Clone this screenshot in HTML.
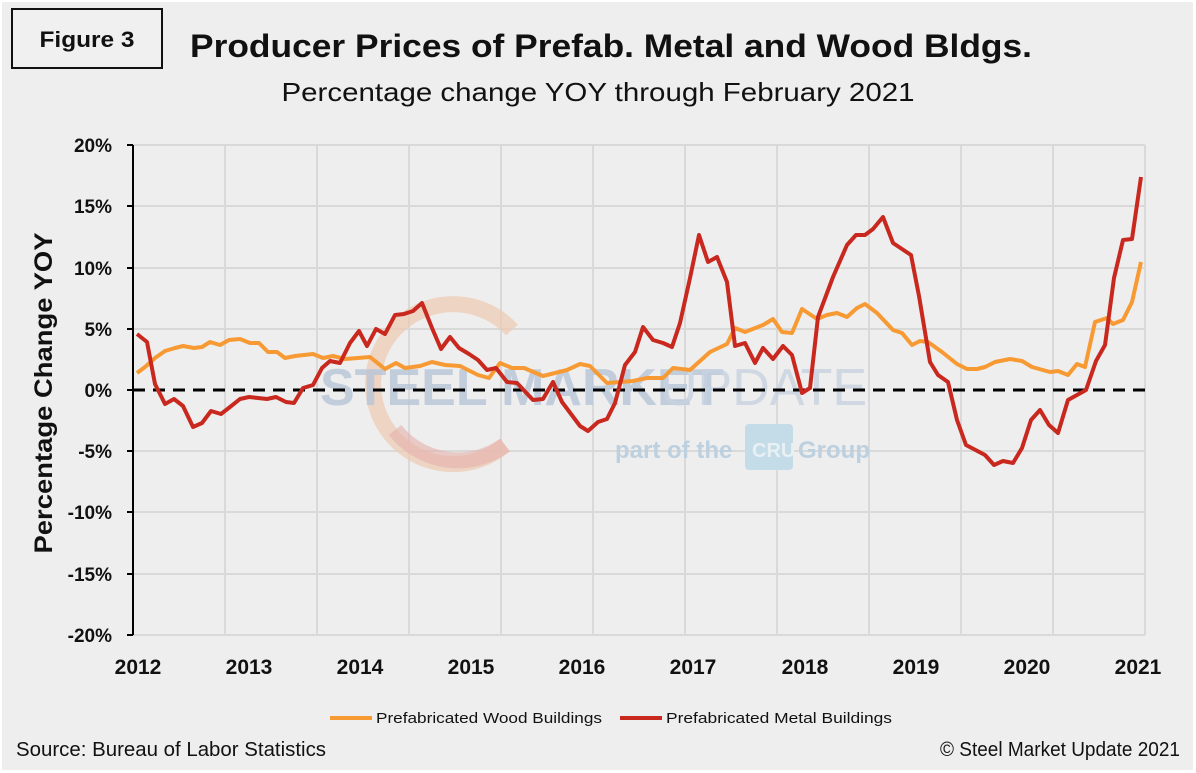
<!DOCTYPE html>
<html><head><meta charset="utf-8"><style>
body{margin:0;background:#fff;}
svg{display:block;font-family:"Liberation Sans",sans-serif;}
</style></head><body>
<svg width="1196" height="773" viewBox="0 0 1196 773" xmlns="http://www.w3.org/2000/svg">
<rect x="2" y="2" width="1191" height="768" fill="#eeeeee"/>
<rect x="12" y="9" width="150" height="59" fill="#f0f0f0" stroke="#111" stroke-width="2"/>
<text x="87" y="47" text-anchor="middle" font-size="22" font-weight="bold" fill="#111" textLength="95" lengthAdjust="spacingAndGlyphs">Figure 3</text>
<text x="611" y="57" text-anchor="middle" font-size="32" font-weight="bold" fill="#111" textLength="842" lengthAdjust="spacingAndGlyphs">Producer Prices of Prefab. Metal and Wood Bldgs.</text>
<text x="598" y="101" text-anchor="middle" font-size="26" fill="#111" textLength="633" lengthAdjust="spacingAndGlyphs">Percentage change YOY through February 2021</text>
<!-- grid -->
<g stroke="#d9d9d9" stroke-width="2">
<line x1="133" y1="145" x2="1145" y2="145"/><line x1="133" y1="206" x2="1145" y2="206"/>
<line x1="133" y1="268" x2="1145" y2="268"/><line x1="133" y1="329" x2="1145" y2="329"/>
<line x1="133" y1="451" x2="1145" y2="451"/><line x1="133" y1="512" x2="1145" y2="512"/>
<line x1="133" y1="574" x2="1145" y2="574"/><line x1="133" y1="635" x2="1145" y2="635"/>
<line x1="225" y1="145" x2="225" y2="635"/><line x1="317" y1="145" x2="317" y2="635"/>
<line x1="409" y1="145" x2="409" y2="635"/><line x1="501" y1="145" x2="501" y2="635"/>
<line x1="593" y1="145" x2="593" y2="635"/><line x1="685" y1="145" x2="685" y2="635"/>
<line x1="777" y1="145" x2="777" y2="635"/><line x1="869" y1="145" x2="869" y2="635"/>
<line x1="961" y1="145" x2="961" y2="635"/><line x1="1053" y1="145" x2="1053" y2="635"/>
<line x1="1145" y1="145" x2="1145" y2="635"/>
</g>
<!-- watermark -->
<path d="M512,330 A80,80 0 1,0 505,445" fill="none" stroke="#eec9b0" stroke-width="16" opacity="0.7"/>
<path d="M395,430 A80,80 0 0,0 505,445" fill="none" stroke="#e6b0ac" stroke-width="16" opacity="0.6"/>
<text x="320" y="405" font-size="52" font-weight="bold" fill="#b8c6d8" opacity="0.8">STEEL MARKET</text>
<text x="660" y="405" font-size="52" fill="#c8d2e0" opacity="0.8">UPDATE</text>
<text x="615" y="458" font-size="24" font-weight="bold" fill="#bcd0e0">part of the</text>
<rect x="745" y="424" width="48" height="46" rx="4" fill="#c4dce8"/>
<text x="752" y="457" font-size="20" font-weight="bold" fill="#e8f0f4">CRU</text>
<text x="798" y="458" font-size="24" font-weight="bold" fill="#bcd0e0">Group</text>
<!-- axis -->
<g stroke="#000" stroke-width="2">
<line x1="133" y1="145" x2="133" y2="635"/>
<line x1="127" y1="145" x2="133" y2="145"/><line x1="127" y1="206" x2="133" y2="206"/>
<line x1="127" y1="268" x2="133" y2="268"/><line x1="127" y1="329" x2="133" y2="329"/>
<line x1="127" y1="390" x2="133" y2="390"/><line x1="127" y1="451" x2="133" y2="451"/>
<line x1="127" y1="512" x2="133" y2="512"/><line x1="127" y1="574" x2="133" y2="574"/>
<line x1="127" y1="635" x2="133" y2="635"/>
</g>
<line x1="133" y1="390" x2="1145" y2="390" stroke="#000" stroke-width="3" stroke-dasharray="12,8"/>
<g font-size="19" font-weight="bold" fill="#111" text-anchor="end">
<text x="112" y="152">20%</text><text x="112" y="213">15%</text><text x="112" y="275">10%</text>
<text x="112" y="336">5%</text><text x="112" y="397">0%</text><text x="112" y="458">-5%</text>
<text x="112" y="519">-10%</text><text x="112" y="581">-15%</text><text x="112" y="642">-20%</text>
</g>
<text transform="translate(52,393) rotate(-90)" text-anchor="middle" font-size="25" font-weight="bold" fill="#111" textLength="321" lengthAdjust="spacingAndGlyphs">Percentage Change YOY</text>
<g font-size="21" font-weight="bold" fill="#111" text-anchor="middle">
<text x="138" y="674">2012</text><text x="249" y="674">2013</text><text x="360" y="674">2014</text>
<text x="471" y="674">2015</text><text x="582" y="674">2016</text><text x="693" y="674">2017</text>
<text x="805" y="674">2018</text><text x="916" y="674">2019</text><text x="1027" y="674">2020</text>
<text x="1138" y="674">2021</text>
</g>
<polyline fill="none" stroke="#f79a34" stroke-width="4" stroke-linejoin="round" points="137,373 145,367 155,358 165,351 175,348 183,346 194,348 202,347 210,342 220,345 229,340 240,339 250,343 259,343 268,352 277,352 285,358 295,356 313,354 323,358 333,356 345,359 358,358 370,357 385,369 396,363 405,368 420,366 432,362 445,365 460,366 478,375 489,378 500,363 512,368 524,368 543,376 567,370 580,364 590,366 607,383 633,381 647,378 663,378 673,368 690,370 710,352 727,344 735,328 745,332 763,325 773,319 782,332 792,333 802,309 817,319 827,315 837,313 847,317 857,308 865,304 877,313 893,330 902,333 912,345 920,341 928,342 942,352 957,364 967,369 977,369 985,367 995,362 1010,359 1022,361 1032,367 1050,372 1058,371 1068,375 1077,364 1085,367 1095,322 1107,318 1113,324 1123,320 1132,302 1141,262"/>
<polyline fill="none" stroke="#c8281e" stroke-width="4" stroke-linejoin="round" points="137,334 147,342 155,384 165,404 174,399 183,406 193,427 202,423 211,411 221,414 230,407 240,399 249,397 258,398 267,399 276,397 286,402 294,403 303,388 313,385 322,368 330,361 340,363 350,343 359,331 367,346 376,329 385,334 395,315 404,314 413,311 422,303 432,328 441,349 450,337 459,348 469,354 478,360 487,370 496,368 507,382 517,383 533,400 543,399 553,382 562,402 580,426 588,431 598,422 607,419 615,403 625,365 635,352 643,327 653,340 663,343 672,347 680,323 690,278 699,235 708,262 717,257 727,282 735,346 745,343 755,363 763,348 773,359 783,346 792,355 802,393 810,388 818,317 833,277 847,245 856,235 865,235 873,229 883,217 893,243 911,255 919,296 930,362 938,375 948,382 957,420 966,445 985,455 994,465 1003,461 1013,463 1022,448 1031,420 1040,410 1049,425 1058,433 1068,400 1086,390 1096,361 1105,345 1114,278 1123,240 1132,239 1141,177"/>
<!-- legend -->
<line x1="330" y1="718" x2="372" y2="718" stroke="#f79a34" stroke-width="4"/>
<text x="376" y="723" font-size="15" fill="#111" textLength="226" lengthAdjust="spacingAndGlyphs">Prefabricated Wood Buildings</text>
<line x1="620" y1="718" x2="662" y2="718" stroke="#c8281e" stroke-width="4"/>
<text x="666" y="723" font-size="15" fill="#111" textLength="226" lengthAdjust="spacingAndGlyphs">Prefabricated Metal Buildings</text>
<text x="16" y="756" font-size="20" fill="#111" textLength="310" lengthAdjust="spacingAndGlyphs">Source: Bureau of Labor Statistics</text>
<text x="1180" y="756" text-anchor="end" font-size="20" fill="#111" textLength="240" lengthAdjust="spacingAndGlyphs">© Steel Market Update 2021</text>
</svg>
</body></html>
